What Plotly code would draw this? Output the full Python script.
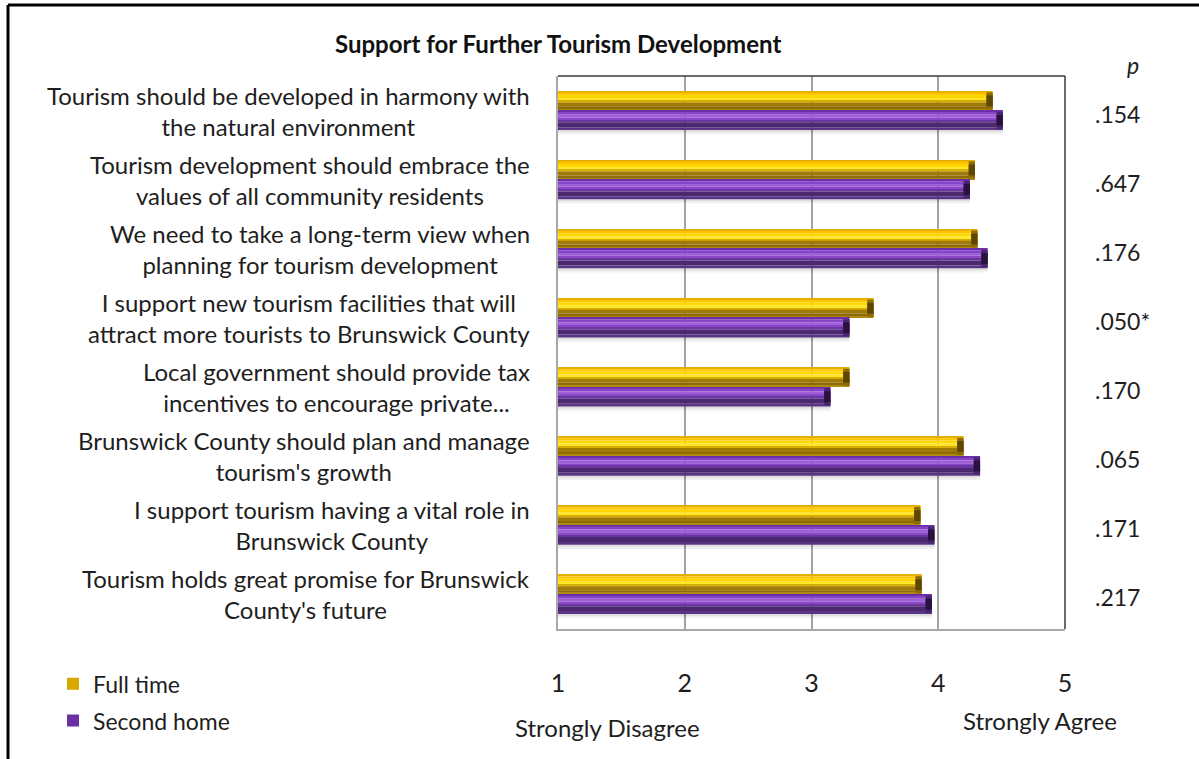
import plotly.graph_objects as go

# Survey items (top to bottom) and mean agreement scores (1 = Strongly Disagree, 5 = Strongly Agree)
statements = [
    "Tourism should be developed in harmony with<br>the natural environment",
    "Tourism development should embrace the<br>values of all community residents",
    "We need to take a long-term view when<br>planning for tourism development",
    "I support new tourism facilities that will<br>attract more tourists to Brunswick County",
    "Local government should provide tax<br>incentives to encourage private...",
    "Brunswick County should plan and manage<br>tourism's growth",
    "I support tourism having a vital role in<br>Brunswick County",
    "Tourism holds great promise for Brunswick<br>County's future",
]
full_time = [4.43, 4.29, 4.31, 3.49, 3.30, 4.20, 3.86, 3.87]
second_home = [4.51, 4.25, 4.39, 3.30, 3.15, 4.33, 3.97, 3.95]
p_values = [".154", ".647", ".176", ".050*", ".170", ".065", ".171", ".217"]
scale_ticks = [1, 2, 3, 4, 5]

FONT = "Lato"
TEXT = "#1e1e1e"
positions = list(range(len(statements)))
BAR_H = 0.282  # thickness of one bar in category units
CAP = 0.05     # length of the bevelled end cap in axis units

# horizontal bands (top fraction, bottom fraction, colour) giving a bevelled look
ft_bands = [
    (0.00, 0.08, "#E6AE00"),
    (0.08, 0.20, "#FFC600"),
    (0.20, 0.35, "#FFD600"),
    (0.35, 0.50, "#FFE52A"),
    (0.50, 0.58, "#D6AE02"),
    (0.58, 0.78, "#A07A06"),
    (0.78, 0.92, "#8C6A04"),
    (0.92, 1.00, "#B08A10"),
]
sh_bands = [
    (0.00, 0.08, "#6A2EA8"),
    (0.08, 0.22, "#8644C6"),
    (0.22, 0.36, "#9E5ED8"),
    (0.36, 0.50, "#8A48C8"),
    (0.50, 0.60, "#6A36A0"),
    (0.60, 0.85, "#4C2870"),
    (0.85, 1.00, "#5A3484"),
    (1.00, 1.10, "rgba(0,0,0,0.13)"),
    (1.10, 1.22, "rgba(0,0,0,0.06)"),
]
ft_cap = [(0.06, 0.94, "#8F6C00"), (0.22, 0.78, "#5E4700")]
sh_cap = [(0.06, 0.94, "#4A2470"), (0.22, 0.78, "#2A1240")]

fig = go.Figure()


def add_series(name, values, bands, caps, start, legend_color, group):
    for a, b, color in bands:
        fig.add_trace(go.Bar(
            x=values, y=positions, orientation="h",
            offset=start + a * BAR_H, width=(b - a) * BAR_H,
            marker=dict(color=color, line=dict(width=0)),
            name=name, legendgroup=group, showlegend=False,
            hoverinfo="skip",
        ))
    # darker face at the end of each bar
    for a, b, color in caps:
        fig.add_trace(go.Bar(
            x=[CAP] * len(values), base=[v - CAP for v in values],
            y=positions, orientation="h",
            offset=start + a * BAR_H, width=(b - a) * BAR_H,
            marker=dict(color=color, line=dict(width=0)),
            name=name, legendgroup=group, showlegend=False,
            hoverinfo="skip",
        ))
    # legend entry
    fig.add_trace(go.Bar(
        x=[None], y=[None], orientation="h", name=name,
        marker=dict(color=legend_color, line=dict(width=0)),
        legendgroup=group, showlegend=True,
    ))


add_series("Full time", full_time, ft_bands, ft_cap, -BAR_H, "#D9A800", "ft")
add_series("Second home", second_home, sh_bands, sh_cap, 0.0, "#6A2FA2", "sh")

# statement labels, right-aligned block with centred lines
for pos, text in zip(positions, statements):
    fig.add_annotation(
        x=-0.0513, xref="paper", y=pos, yref="y",
        text=text, showarrow=False, xanchor="right", yanchor="middle",
        align="center", font=dict(family=FONT, size=24, color=TEXT),
    )

# p-values column
for pos, pv in zip(positions, p_values):
    fig.add_annotation(
        x=1.0552, xref="paper", y=pos, yref="y", yshift=-3,
        text=pv, showarrow=False, xanchor="left", yanchor="middle",
        font=dict(family=FONT, size=23, color=TEXT),
    )
fig.add_annotation(
    x=1.134, xref="paper", y=1.02, yref="paper", text="<i>p</i>",
    showarrow=False, xanchor="center", yanchor="middle",
    font=dict(family=FONT, size=23, color=TEXT),
)

# chart title
fig.add_annotation(
    x=0.0, xref="paper", y=1.058, yref="paper",
    text="<b>Support for Further Tourism Development</b>",
    showarrow=False, xanchor="center", yanchor="middle",
    font=dict(family=FONT, size=24, color="#111111"),
)

# scale anchors
fig.add_annotation(
    x=0.0986, xref="paper", y=-0.179, yref="paper", text="Strongly Disagree",
    showarrow=False, xanchor="center", yanchor="middle",
    font=dict(family=FONT, size=24, color=TEXT),
)
fig.add_annotation(
    x=0.9507, xref="paper", y=-0.1646, yref="paper", text="Strongly Agree",
    showarrow=False, xanchor="center", yanchor="middle",
    font=dict(family=FONT, size=24, color=TEXT),
)

# plot frame (top and right) and outer page frame
fig.add_shape(type="line", xref="paper", yref="paper", x0=0, x1=1, y0=1, y1=1,
              line=dict(color="#3a3a3a", width=1.5))
fig.add_shape(type="line", xref="paper", yref="paper", x0=1, x1=1, y0=0, y1=1,
              line=dict(color="#3a3a3a", width=1.5))
fig.add_shape(type="line", xref="paper", yref="paper", x0=-1.0848, x1=1.27,
              y0=1.1284, y1=1.1284, line=dict(color="#000000", width=3))
fig.add_shape(type="line", xref="paper", yref="paper", x0=-1.0848, x1=-1.0848,
              y0=1.1284, y1=-0.25, line=dict(color="#000000", width=3))

fig.update_layout(
    width=1199, height=759,
    margin=dict(l=558, r=134, t=76, b=130, autoexpand=False),
    paper_bgcolor="white", plot_bgcolor="white",
    barmode="overlay",
    font=dict(family=FONT, color=TEXT),
    showlegend=True,
    legend=dict(
        x=-0.996, xanchor="left", y=-0.06, yanchor="top",
        traceorder="grouped", tracegroupgap=4,
        font=dict(family=FONT, size=23, color=TEXT),
        bgcolor="rgba(0,0,0,0)", itemwidth=30,
    ),
    xaxis=dict(
        range=[1, 5], tickvals=scale_ticks, ticktext=[str(t) for t in scale_ticks],
        showgrid=True, gridcolor="#a3a3a3", gridwidth=1.5,
        showline=True, linecolor="#a8a8a8", linewidth=2,
        ticks="", ticklabelstandoff=31,
        tickfont=dict(family=FONT, size=25, color=TEXT),
        zeroline=False, fixedrange=True,
    ),
    yaxis=dict(
        range=[len(statements) - 0.5, -0.5], showticklabels=False,
        showgrid=False, showline=True, linecolor="#a8a8a8", linewidth=1.5,
        ticks="", zeroline=False, fixedrange=True,
    ),
)

fig.write_html("out.html")
